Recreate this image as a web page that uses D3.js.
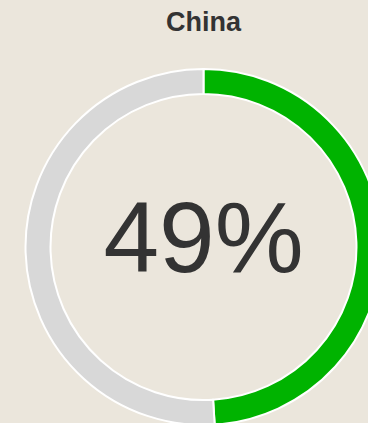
<!DOCTYPE html>
<html>
<head>
<meta charset="utf-8">
<script src="https://cdn.jsdelivr.net/npm/d3@7"></script>
<style>
  body { margin: 0; background: #ebe6dc; }
  svg { display: block; }
</style>
</head>
<body>
<script>
// data
var country = "China";
var shares = [
  { label: "yes", value: 49 },
  { label: "rest", value: 51 }
];
var colours = ["#00b300", "#d8d8d8"];

var width = 368,
    height = 423;

var svg = d3.select("body").append("svg")
    .attr("width", width)
    .attr("height", height)
    .style("background", "#ebe6dc");

var cx = 203.5, cy = 247, outer = 178, inner = 153;

svg.append("text")
    .attr("x", cx)
    .attr("y", 31)
    .attr("text-anchor", "middle")
    .style("font-family", "Liberation Sans, Arial, sans-serif")
    .style("font-weight", "bold")
    .style("font-size", "27px")
    .style("fill", "#333")
    .text(country);

var pie = d3.pie()
    .value(function (d) { return d.value; })
    .sort(null);

var arc = d3.arc()
    .innerRadius(inner)
    .outerRadius(outer);

var g = svg.append("g")
    .attr("transform", "translate(" + cx + "," + cy + ")");

g.selectAll("path")
    .data(pie(shares))
    .enter()
  .append("path")
    .attr("d", arc)
    .attr("fill", function (d, i) { return colours[i]; })
    .attr("stroke", "#fff")
    .attr("stroke-width", 2);

g.append("text")
    .attr("x", 0)
    .attr("y", 25)
    .attr("text-anchor", "middle")
    .style("font-family", "Liberation Sans, Arial, sans-serif")
    .style("font-size", "100px")
    .style("fill", "#333")
    .text(shares[0].value + "%");
</script>
</body>
</html>
